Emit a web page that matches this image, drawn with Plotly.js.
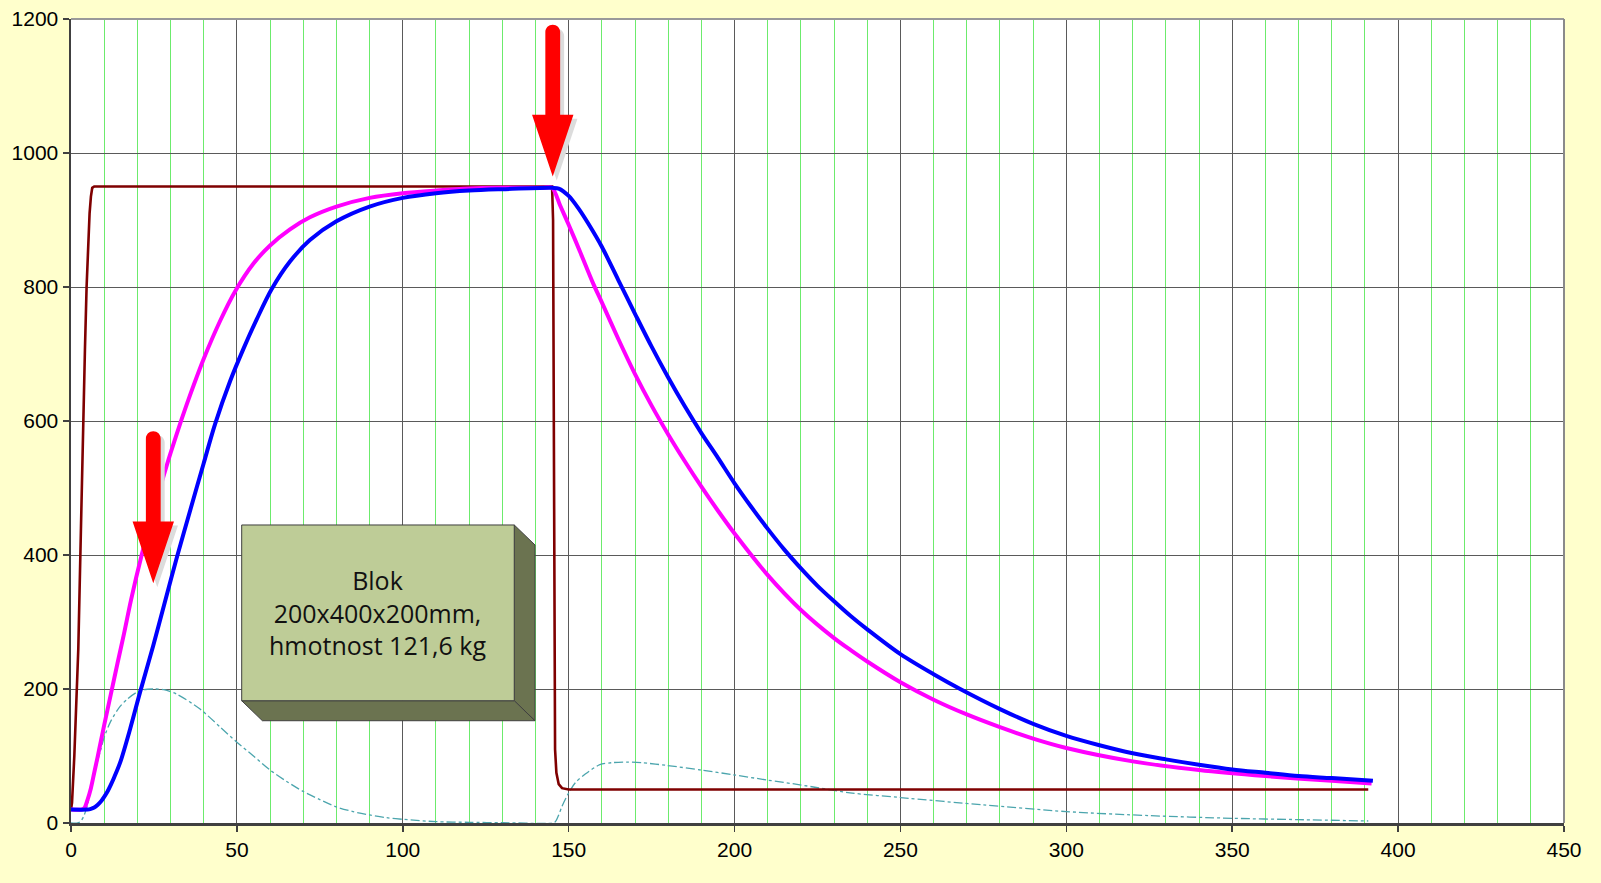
<!DOCTYPE html>
<html><head><meta charset="utf-8">
<script src="https://cdn.plot.ly/plotly-3.0.1.min.js"></script>
<style>html,body{margin:0;padding:0;background:#FFFFCC;}#chart{width:1601px;height:883px;}</style>
</head><body><div id="chart"></div>
<script>
// Furnace (dark red)
const tFurnace = [0,0.3,1,1.7,2.2,3,3.6,4.2,4.7,5.2,5.6,6,6.4,7,145,145.3,145.5,145.7,145.9,146.3,147,148,150,391];
const TFurnace = [20,30,100,198,260,440,590,706,800,870,910,935,948,950,950,900,600,183,110,75,58,52,50,50];
// Surface (magenta)
const tSurface = [0,3,4,5,6,7,8,9,10,12,14,16,18.1,21.3,24,27.8,30,33.3,35.4,40.1,45,49.4,55,60,66,72,80,90,100,110,120,130,137,142,145,147.4,150,153.4,157.4,160,165,170,175,180,185,190,195,200,210,220,230,235,240,250,260,270,280,290,300,320,340,360,380,392];
const TSurface = [20,20,22,35,52,75,98,122,146,192,238,283,333,400,450,516,552,602,632,694,750,793,835,862,886,904,920,933,940,944,947,948,948,948,948,922,893,853,805,777,722,670,623,580,540,502,466,432,370,318,276,258,241,210,184,162,143,126,112,92,79,70,63,59];
// Core (blue)
const tCore = [0,5,6,7,8,9,10,11,12,13,14.8,17.8,20.8,24.8,28.3,32,36,40,43.4,48,52,56,60.5,66,72,80,90,100,110,120,130,145,147,150,153,156,160,165,170,175,180,185,190,195,200,205,210,215,220,225,230,235,240,250,260,268,280,290,300,310,320,330,340,350,360,370,380,392.4];
const TCore = [20,20,21,23,27,32,39,47,57,68,90,140,195,265,330,398,468,537,595,660,708,752,797,838,870,898,920,933,940,944,946,948,947,936,917,894,860,810,760,711,665,622,582,545,507,472,439,408,380,354,331,309,289,252,222,200,170,148,130,116,104,95,87,80,75,70,67,63];
// Difference (teal dash-dot)
const tDiff = [0,2,3,4,5,6,7,8,9,10,12,14.8,17,19.8,22,25.3,28,32,38.9,45,49.9,55,60,65,70,75,80,85,90,95,100,110,120,130,145,146,147,148,149.9,152,155,159.4,163,167.5,172,179.5,190,199.6,210,219.7,234.8,250,275,300,325,350,370,391];
const TDiff = [0,0,3,12,28,50,72,92,110,128,152,174,185,195,199,200,199,192,170,143,121,100,79,62,47,35,24,17,12,8,5.5,2,1,0.5,0,2,12,25,44,60,73,87,90,91,90,86,79,72,64,57,45,38,27,17,11,7,5,3];

const xTicks = [0,50,100,150,200,250,300,350,400,450];
const yTicks = [0,200,400,600,800,1000,1200];
const boxText = 'Blok<br>200x400x200mm,<br>hmotnost 121,6 kg';

const traces = [
  {x:tDiff, y:TDiff, mode:'lines', line:{color:'#4BA5AD', width:1.3, dash:'dashdot', shape:'spline', smoothing:0.8}, hoverinfo:'skip'},
  {x:tFurnace, y:TFurnace, mode:'lines', line:{color:'#7F0000', width:2.6}, hoverinfo:'skip'},
  {x:tSurface, y:TSurface, mode:'lines', line:{color:'#FF00FF', width:4, shape:'spline', smoothing:0.8}, hoverinfo:'skip'},
  {x:tCore, y:TCore, mode:'lines', line:{color:'#0000FF', width:4, shape:'spline', smoothing:0.9}, hoverinfo:'skip'}
];

function arrowPath(dx, dy) {
  const p = (x,y)=> (x+dx).toFixed(2)+','+(y+dy).toFixed(2);
  return 'M'+p(0,0)+' L'+p(-20.7,61.6)+' L'+p(-7.4,61.6)+' L'+p(-7.4,144.5)+
    ' C'+p(-7.4,148.6)+' '+p(-4.1,151.8)+' '+p(0,151.8)+
    ' C'+p(4.1,151.8)+' '+p(7.4,148.6)+' '+p(7.4,144.5)+
    ' L'+p(7.4,61.6)+' L'+p(20.7,61.6)+' Z';
}
function arrowShapes(xa, ya) {
  return [
    {type:'path', xref:'x', yref:'y', xsizemode:'pixel', ysizemode:'pixel', xanchor:xa, yanchor:ya,
     path:arrowPath(4,-4), fillcolor:'#DCDCDC', line:{width:0}, layer:'above'},
    {type:'path', xref:'x', yref:'y', xsizemode:'pixel', ysizemode:'pixel', xanchor:xa, yanchor:ya,
     path:arrowPath(0,0), fillcolor:'#FF0000', line:{width:0}, layer:'above'}
  ];
}

// Box geometry (data units)
const bx0 = 51.45, bx1 = 133.6, byT = 444.8, byB = 182.5, ddx = 6.24, ddy = 29.85;
const shapes = [
  {type:'path', xref:'x', yref:'y', layer:'above', fillcolor:'#6B7350', line:{color:'#3F3F3F', width:1},
   path:`M${bx1},${byT} L${bx1+ddx},${byT-ddy} L${bx1+ddx},${byB-ddy} L${bx1},${byB} Z`},
  {type:'path', xref:'x', yref:'y', layer:'above', fillcolor:'#6B7350', line:{color:'#3F3F3F', width:1},
   path:`M${bx0},${byB} L${bx1},${byB} L${bx1+ddx},${byB-ddy} L${bx0+ddx},${byB-ddy} Z`},
  {type:'rect', xref:'x', yref:'y', layer:'above', x0:bx0, x1:bx1, y0:byB, y1:byT, fillcolor:'#BECC97', line:{color:'#3F3F3F', width:1}},
  {type:'line', xref:'paper', yref:'paper', x0:0, x1:1, y0:1, y1:1, line:{color:'#9A9A9A', width:2}, layer:'above'},
  {type:'line', xref:'paper', yref:'paper', x0:1, x1:1, y0:0, y1:1, line:{color:'#8A8A8A', width:2}, layer:'above'},
  ...arrowShapes(24.8, 358),
  ...arrowShapes(145.2, 965)
];

const layout = {
  width:1601, height:883,
  paper_bgcolor:'#FFFFCC', plot_bgcolor:'#FFFFFF',
  margin:{l:71, r:37, t:19, b:60},
  showlegend:false,
  font:{family:'"Liberation Sans", Arial, sans-serif', size:21, color:'#000'},
  xaxis:{range:[0,450], tickvals:xTicks, ticktext:xTicks.map(String), showgrid:true, gridcolor:'#5A5A5A', gridwidth:1,
    minor:{dtick:10, tick0:0, showgrid:true, gridcolor:'#6CEB6C', gridwidth:1},
    showline:true, linecolor:'#404040', linewidth:2.5, ticks:'outside', ticklen:6, tickcolor:'#404040', tickwidth:1.5,
    zeroline:false, fixedrange:true, tickfont:{size:21}},
  yaxis:{range:[0,1200], tickvals:yTicks, ticktext:yTicks.map(String), showgrid:true, gridcolor:'#5A5A5A', gridwidth:1,
    showline:true, linecolor:'#404040', linewidth:2.5, ticks:'outside', ticklen:6, tickcolor:'#404040', tickwidth:1.5,
    zeroline:false, fixedrange:true, tickfont:{size:21}},
  shapes: shapes,
  annotations:[
    {x:(bx0+bx1)/2, y:(byT+byB)/2, xref:'x', yref:'y', text:boxText, showarrow:false,
     font:{family:'"Open Sans", "Noto Sans", sans-serif', size:25, color:'#111'}, align:'center'}
  ]
};

Plotly.newPlot('chart', traces, layout, {staticPlot:true, displayModeBar:false});
</script></body></html>
